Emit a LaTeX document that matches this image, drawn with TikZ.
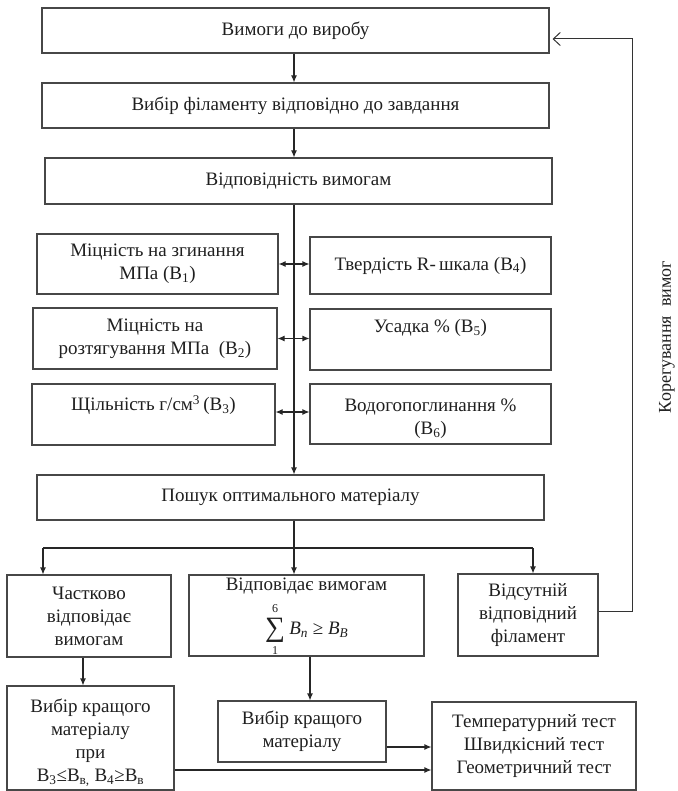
\documentclass[tikz,border=0pt]{standalone}
\usepackage{fontspec}
\setmainfont{Liberation Serif}
\usetikzlibrary{arrows.meta}
\begin{document}
\begin{tikzpicture}[x=1pt,y=-1pt,
  box/.style={draw=black!72, line width=1.1pt, inner sep=0pt, align=center,
    font=\fontsize{19}{23}\selectfont, text=black!88},
  txt/.style={inner sep=0pt, align=center, font=\fontsize{19}{23}\selectfont, text=black!88},
  lim/.style={inner sep=0pt, font=\fontsize{12}{12}\selectfont, text=black!88},
  arr/.style={line width=1.1pt, draw=black!85, -{Latex[length=7pt,width=6pt]}},
  dbl/.style={line width=1.1pt, draw=black!85, {Latex[length=7pt,width=6pt]}-{Latex[length=7pt,width=6pt]}},
  ln/.style={line width=1.1pt, draw=black!85},
  back/.style={line width=1pt, draw=black!80, -{Straight Barb[length=7pt,width=13pt]}}]
\useasboundingbox (0,0) rectangle (677,791);

% top column
\node[box, minimum width=507pt, minimum height=45pt] (v1) at (295.5,30.5) {Вимоги до виробу};
\node[box, minimum width=507pt, minimum height=45pt] (v2) at (295.5,105.5) {Вибір філаменту відповідно до завдання};
\node[box, minimum width=507pt, minimum height=46pt] (v3) at (298.5,181) {Відповідність вимогам};

% criteria boxes
\node[box, minimum width=241pt, minimum height=60pt] (l1) at (157.5,264) {Міцність на згинання\\МПа (B\textsubscript{1})};
\node[box, minimum width=244pt, minimum height=61pt] (l2) at (155,338.5) {Міцність на\\розтягування МПа\ \ (B\textsubscript{2})};
\node[box, minimum width=243pt, minimum height=61pt] (l3) at (153.5,414.5) {};
\node[txt] at (153.5,405) {Щільність г/см\textsuperscript{3}\,(B\textsubscript{3})};
\node[box, minimum width=241pt, minimum height=57pt] (r1) at (430.5,265.5) {Твердість R-\,шкала (B\textsubscript{4})};
\node[box, minimum width=241pt, minimum height=61pt] (r2) at (430.5,339.5) {};
\node[txt] at (430.5,328) {Усадка \% (B\textsubscript{5})};
\node[box, minimum width=241pt, minimum height=60pt] (r3) at (430.5,414) {};
\node[txt] at (430.5,419) {Водогопоглинання \%\\(B\textsubscript{6})};

\node[box, minimum width=507pt, minimum height=45pt] (p) at (290.5,497.5) {Пошук оптимального матеріалу};

% outcome boxes
\node[box, minimum width=164pt, minimum height=82pt] (b1) at (89,616) {Частково\\відповідає\\вимогам};
\node[box, minimum width=235pt, minimum height=81pt] (b2) at (306.5,615.5) {};
\node[txt] at (306.5,586) {Відповідає вимогам};
\node[txt, font=\fontsize{28}{28}\selectfont] (sig) at (275,630) {∑};
\node[lim, anchor=south] at ([yshift=5pt]sig.north) {6};
\node[lim, anchor=north] at ([yshift=-4pt]sig.south) {1};
\node[txt, anchor=west] at ([xshift=4pt]sig.east) {\itshape B\textsubscript{n} \upshape≥ \itshape B\textsubscript{B}};
\node[box, minimum width=140pt, minimum height=82pt] (b3) at (528,615) {Відсутній\\відповідний\\філамент};

\node[box, minimum width=167pt, minimum height=104pt] (c1) at (90.5,738) {};
\node[txt] at (90.5,731) {Вибір кращого\\матеріалу\\при};
\node[txt, font=\fontsize{19}{21}\selectfont] at (90.5,778) {B\textsubscript{3}≤B\textsubscript{в,} B\textsubscript{4}≥B\textsubscript{в}};
\node[box, minimum width=168pt, minimum height=61pt] (c2) at (302,731.5) {Вибір кращого\\матеріалу};
\node[box, minimum width=204pt, minimum height=88pt] (c3) at (534,746) {Температурний тест\\Швидкісний тест\\Геометричний тест};

% side label
\node[txt, font=\fontsize{18}{22}\selectfont, rotate=90] (lab) at (667,337) {Корегування\ \ вимог};

% coordinates
\coordinate (sx) at (294,0);
\coordinate (hl) at (43,548);
\coordinate (hr) at (533,548);
\coordinate (c1x) at (83,0);
\coordinate (c2x) at (310,0);
\coordinate (y1) at (0,747);
\coordinate (y2) at (0,770);
\coordinate (fb) at (632,0);
\coordinate (fy) at (0,39);

% connectors
\draw[arr] (v1.south -| sx) -- (v2.north -| sx);
\draw[arr] (v2.south -| sx) -- (v3.north -| sx);
\draw[arr] (v3.south -| sx) -- (p.north -| sx);
\draw[dbl] (l1.east) -- (l1.east -| r1.west);
\draw[dbl] (l2.east) -- (l2.east -| r2.west);
\draw[dbl] (l3.east |- 0,412) -- (r3.west |- 0,412);
\draw[arr] (p.south -| sx) -- (b2.north -| sx);
\draw[ln] (hl) -- (hr);
\draw[arr] (hl) -- (hl |- b1.north);
\draw[arr] (hr) -- (hr |- b3.north);
\draw[arr] (b1.south -| c1x) -- (c1.north -| c1x);
\draw[arr] (b2.south -| c2x) -- (c2.north -| c2x);
\draw[arr] (c2.east |- y1) -- (c3.west |- y1);
\draw[arr] (c1.east |- y2) -- (c3.west |- y2);
\draw[back] (b3.east |- 0,611) -- (fb |- 0,611) -- (fb |- fy) -- ([xshift=3pt]v1.east |- fy);
\end{tikzpicture}
\end{document}
